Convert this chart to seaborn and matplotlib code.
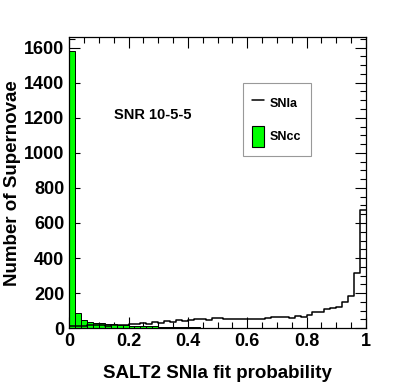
import numpy as np
import pandas as pd
import matplotlib
matplotlib.use("Agg")
import matplotlib.pyplot as plt
import seaborn as sns
from matplotlib.lines import Line2D
from matplotlib.patches import Patch
from matplotlib.ticker import MultipleLocator

# 50 bins of SALT2 fit probability, width 0.02
n_bins = 50
bin_centers = (np.arange(n_bins) + 0.5) / n_bins

snia_counts = [10, 12, 15, 18, 18, 16, 15, 16, 18, 20,
               22, 25, 30, 22, 35, 30, 42, 38, 45, 40,
               48, 55, 50, 45, 58, 56, 55, 52, 52, 55,
               55, 52, 55, 60, 62, 65, 62, 58, 70, 62,
               78, 90, 92, 110, 115, 118, 150, 183, 316, 675]
sncc_counts = [1580, 85, 45, 35, 30, 28, 25, 22, 20, 18,
               15, 13, 12, 10, 10, 8, 8, 6, 5, 5,
               4, 4, 3, 3, 2, 2, 2, 1, 1, 0,
               0, 2, 2, 2, 0, 0, 0, 0, 0, 0,
               0, 0, 0, 0, 0, 0, 0, 0, 0, 0]

df = pd.DataFrame({'prob': bin_centers, 'SNIa': snia_counts, 'SNcc': sncc_counts})

sns.set_style("ticks")
plt.rcParams['font.family'] = ['Liberation Sans', 'DejaVu Sans']
plt.rcParams['font.weight'] = 'bold'
for key in ['text.color', 'axes.labelcolor', 'xtick.color', 'ytick.color', 'axes.edgecolor']:
    plt.rcParams[key] = 'black'

fig = plt.figure(figsize=(4.07, 3.87), dpi=100)
ax = fig.add_axes([0.170, 0.152, 0.729, 0.752])

sns.histplot(data=df, x='prob', weights='SNcc', bins=n_bins, binrange=(0, 1), element='bars',
             color='#00ff00', edgecolor='black', linewidth=0.7, alpha=1, ax=ax)
sns.histplot(data=df, x='prob', weights='SNIa', bins=n_bins, binrange=(0, 1), element='step',
             fill=False, color='black', linewidth=1.1, ax=ax)

ax.set_xlim(0, 1)
ax.set_ylim(0, 1660)
ax.xaxis.set_major_locator(MultipleLocator(0.2))
ax.xaxis.set_minor_locator(MultipleLocator(0.05))
ax.yaxis.set_major_locator(MultipleLocator(200))
ax.yaxis.set_minor_locator(MultipleLocator(50))
ax.set_xticks([0, 0.2, 0.4, 0.6, 0.8, 1.0])
ax.set_xticklabels(['0', '0.2', '0.4', '0.6', '0.8', '1'])
ax.tick_params(which='both', direction='in', top=True, right=True, labelsize=13, width=0.8)
ax.tick_params(which='major', length=8)
ax.tick_params(which='minor', length=4)
for lab in ax.get_xticklabels() + ax.get_yticklabels():
    lab.set_fontweight('bold')
for s in ax.spines.values():
    s.set_linewidth(0.9)

ax.set_xlabel('SALT2 SNIa fit probability', fontsize=13.5, fontweight='bold', labelpad=11)
ax.set_ylabel('Number of Supernovae', fontsize=13.5, fontweight='bold', labelpad=2)

ax.text(0.15, 0.72, 'SNR 10-5-5', transform=ax.transAxes, fontsize=10.5, fontweight='bold')

handles = [Line2D([0], [0], color='black', linewidth=1.1),
           Patch(facecolor='#00ff00', edgecolor='black', linewidth=0.8)]
leg = ax.legend(handles, ['SNIa', 'SNcc'], loc='upper left', bbox_to_anchor=(0.586, 0.842),
                frameon=True, fancybox=False, edgecolor='gray',
                handlelength=0.9, handleheight=2.2, labelspacing=1.0, borderpad=0.75,
                handletextpad=0.5, borderaxespad=0,
                prop={'weight': 'bold', 'size': 9})
leg.get_frame().set_linewidth(0.8)

fig.savefig('out.png', dpi=100)
